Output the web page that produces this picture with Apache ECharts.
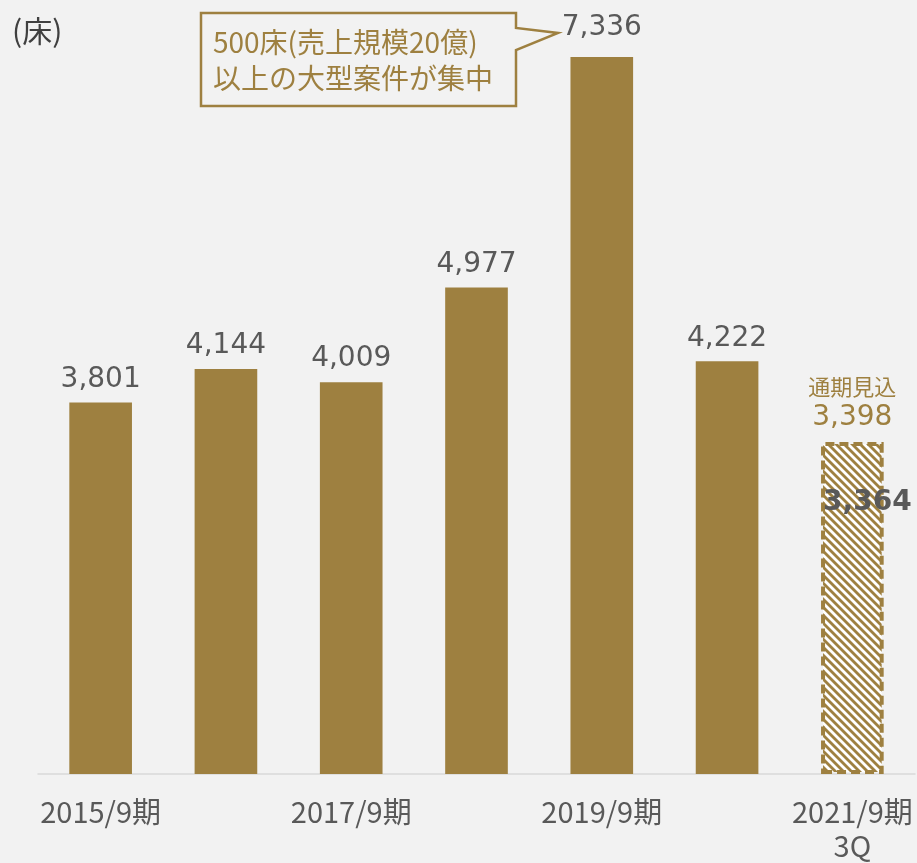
<!DOCTYPE html>
<html>
<head>
<meta charset="utf-8">
<script src="https://cdn.jsdelivr.net/npm/echarts@6/dist/echarts.min.js"></script>
<style>
  html, body { margin: 0; padding: 0; background: #f2f2f2; }
  #chart { width: 917px; height: 863px; }
</style>
</head>
<body>
<div id="chart"></div>
<script>
// data
const categories = ['2015/9期', '2016/9期', '2017/9期', '2018/9期', '2019/9期', '2020/9期', '2021/9期\n3Q']
const beds = [3801, 4144, 4009, 4977, 7336, 4222]
const forecast2021 = 3398
const actual2021q3 = 3364
const unitLabel = '(床)'
const calloutText = '500床(売上規模20億)\n以上の大型案件が集中'

const GOLD = '#9e8040'
const TEXT = '#595959'

// hatch pattern for the forecast bar
function hatch() {
  const s = 8
  const c = document.createElement('canvas')
  c.width = s; c.height = s
  const ctx = c.getContext('2d')
  ctx.fillStyle = '#ffffff'
  ctx.fillRect(0, 0, s, s)
  ctx.strokeStyle = GOLD
  ctx.lineWidth = 2.8
  for (const k of [-s, 0, s]) {
    ctx.beginPath()
    ctx.moveTo(k - 1, -1)
    ctx.lineTo(k + s + 1, s + 1)
    ctx.stroke()
  }
  return c
}

const mainData = beds.map((v) => ({ value: v }))
mainData[4].label = { distance: 15 }
mainData.push({
  value: forecast2021,
  itemStyle: {
    color: { image: hatch(), repeat: 'repeat' },
    borderColor: GOLD, borderWidth: 4, borderType: [9, 5]
  },
  label: {
    formatter: () => '{a|通期見込}\n{b|' + forecast2021.toLocaleString('en-US') + '}',
    rich: {
      a: { fontSize: 22, color: GOLD, fontFamily: 'Noto Sans CJK JP', lineHeight: 33 },
      b: { fontSize: 28, color: GOLD, fontFamily: 'DejaVu Sans', lineHeight: 30 }
    }
  }
})

const actualData = categories.map((_, i) => (i === categories.length - 1 ? actual2021q3 : '-'))

const chart = echarts.init(document.getElementById('chart'))
chart.setOption({
  backgroundColor: '#f2f2f2',
  animation: false,
  grid: { left: 38, right: 2, top: 41, bottom: 86, containLabel: false },
  xAxis: {
    type: 'category', data: categories,
    axisLine: { lineStyle: { color: '#d9d9d9', width: 1.5 } },
    axisTick: { show: false },
    axisLabel: {
      interval: 1, color: TEXT, fontSize: 29, lineHeight: 34,
      fontFamily: 'Noto Sans CJK JP', margin: 21
    }
  },
  yAxis: { type: 'value', min: 0, max: 7500, show: false, splitLine: { show: false } },
  series: [
    {
      type: 'bar', data: mainData, barWidth: '50%',
      itemStyle: { color: GOLD },
      label: {
        show: true, position: 'top', distance: 9,
        color: TEXT, fontSize: 28, fontFamily: 'DejaVu Sans',
        formatter: (p) => p.value.toLocaleString('en-US')
      }
    },
    {
      type: 'bar', data: actualData, barWidth: '50%', barGap: '-100%',
      itemStyle: { color: 'rgba(0,0,0,0)' },
      label: {
        show: true, position: 'insideTop', offset: [15, 38],
        color: TEXT, fontSize: 28, fontWeight: 'bold', fontFamily: 'DejaVu Sans',
        formatter: (p) => p.value.toLocaleString('en-US')
      }
    }
  ],
  graphic: [
    {
      type: 'text', left: 12, top: 16,
      style: { text: unitLabel, fontSize: 30, fontFamily: 'Noto Sans CJK JP', fill: '#404040' }
    },
    {
      type: 'polygon',
      shape: { points: [[201, 13], [516, 13], [516, 28], [558, 33], [516, 50], [516, 106], [201, 106]] },
      style: { fill: '#f2f2f2', stroke: GOLD, lineWidth: 2.5 }
    },
    {
      type: 'text', left: 213, top: 24,
      style: { text: calloutText, fontSize: 28, lineHeight: 36, fontFamily: 'Noto Sans CJK JP', fill: GOLD }
    }
  ]
})
</script>
</body>
</html>
